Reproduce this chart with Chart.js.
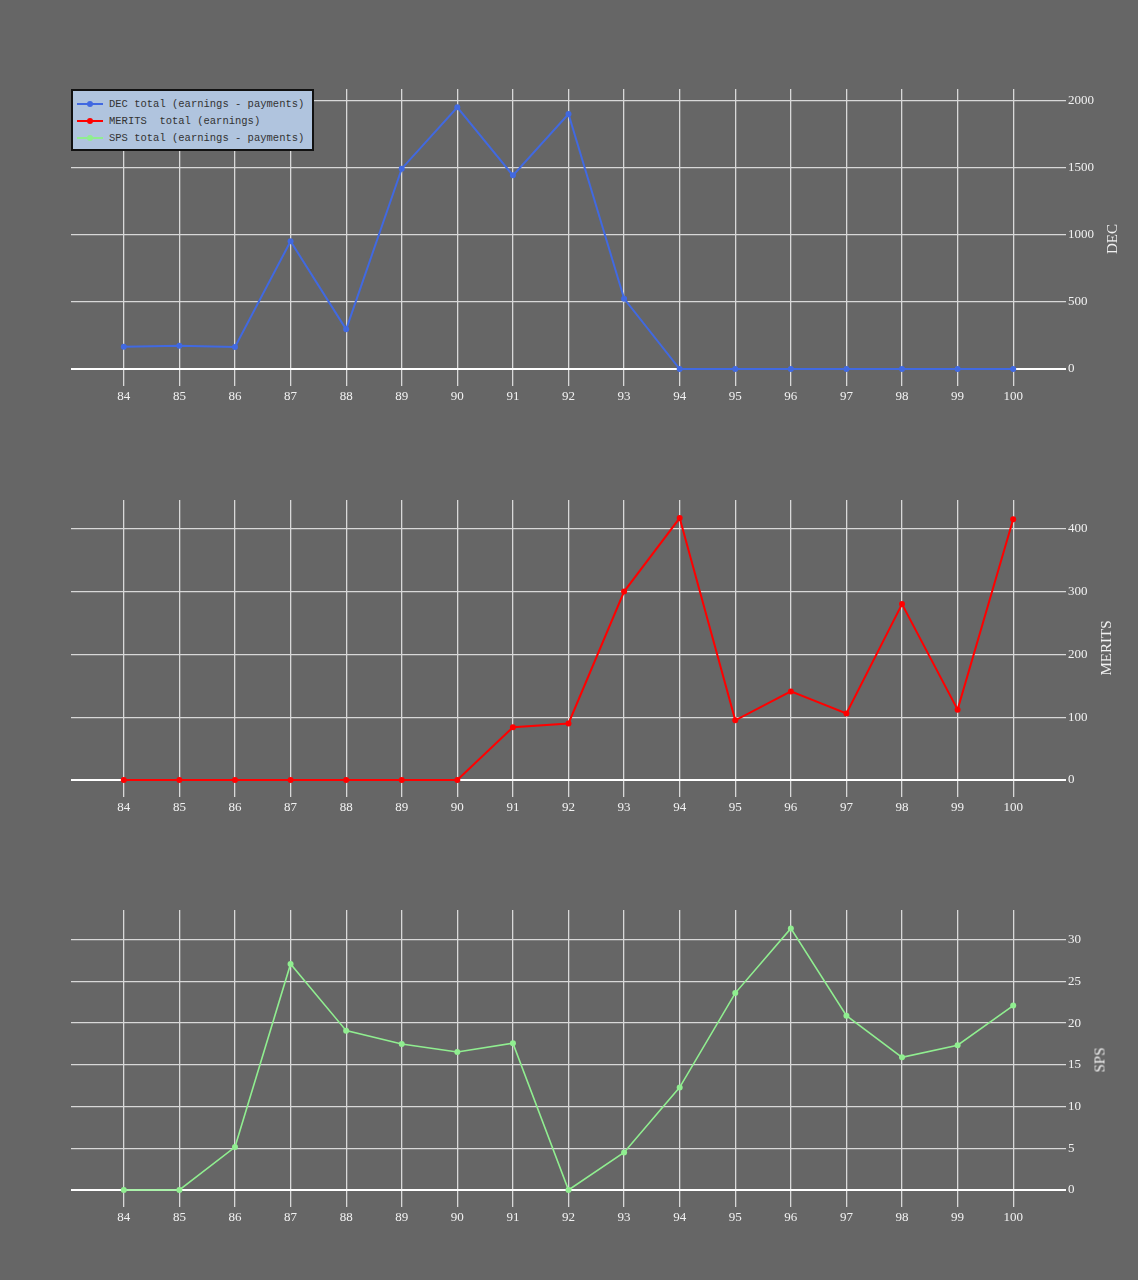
<!DOCTYPE html>
<html>
<head>
<meta charset="utf-8">
<script src="https://cdn.jsdelivr.net/npm/chart.js@4.4.0/dist/chart.umd.min.js"></script>
<style>
html,body{margin:0;padding:0;background:#666666;}
#wrap{position:relative;width:1138px;height:1280px;overflow:hidden;background:#666666;}
canvas{position:absolute;left:0;}
.ytitle{position:absolute;font-family:'Liberation Serif','Times New Roman',serif;font-size:15px;color:#f0f0f0;transform:translate(-50%,-50%) rotate(-90deg);white-space:nowrap;line-height:15px;}
#legend{position:absolute;left:71px;top:89px;width:239px;height:58px;background:#b0c4de;border:2px solid #111;font-family:'Liberation Mono','Courier New',monospace;font-size:10.5px;color:#333;}
.lrow{position:absolute;left:0;width:239px;height:17px;}
.lline{position:absolute;left:4px;top:7.5px;width:26px;height:2px;}
.ldot{position:absolute;left:14px;top:5.5px;width:6px;height:6px;border-radius:50%;}
.ltext{position:absolute;left:36px;top:0;line-height:17px;white-space:pre;}
</style>
</head>
<body>
<div id="wrap">
  <canvas id="c1" width="1138" height="409" style="top:0px;width:1138px;height:409px;"></canvas>
  <canvas id="c2" width="1138" height="400" style="top:420px;width:1138px;height:400px;"></canvas>
  <canvas id="c3" width="1138" height="400" style="top:830px;width:1138px;height:400px;"></canvas>
  <div class="ytitle" id="t1" style="left:1112px;top:239px;"></div>
  <div class="ytitle" id="t2" style="left:1106px;top:648px;"></div>
  <div class="ytitle" id="t3" style="left:1100px;top:1060px;"></div>
  <div id="legend"></div>
</div>
<script>
// ---- data ----
const rounds = [84,85,86,87,88,89,90,91,92,93,94,95,96,97,98,99,100];
const decValues = [166,174,164,953,296,1495,1953,1445,1903,525,0,0,0,0,0,0,0];
const meritsValues = [0,0,0,0,0,0,0,84,90,300,417,95,141,106,280,112,415];
const spsValues = [0,0,5.15,27.1,19.1,17.5,16.55,17.6,0,4.5,12.3,23.6,31.35,20.9,15.9,17.35,22.1];
const seriesNames = ['DEC total (earnings - payments)','MERITS  total (earnings)','SPS total (earnings - payments)'];
const axisTitles = ['DEC','MERITS','SPS'];
const decTicks = [0,500,1000,1500,2000];
const meritsTicks = [0,100,200,300,400];
const spsTicks = [0,5,10,15,20,25,30];

const colors = ['#4169e1','#ff0000','#90ee90'];
const tickFont = {family:"'Liberation Serif','Times New Roman',serif", size:13};
const tickColor = '#f2f2f2';
const gridColor = '#d8d8d8';

function makeChart(id, label, values, color, lw, yMax, tickVals, padTop){
  return new Chart(document.getElementById(id), {
    type:'line',
    data:{datasets:[{
      label:label,
      data: rounds.map((r,i)=>({x:r,y:values[i]})),
      borderColor:color, backgroundColor:color,
      borderWidth:lw, pointRadius:3, pointHoverRadius:3, pointBorderWidth:0,
      tension:0, fill:false, clip:false
    }]},
    options:{
      responsive:false, animation:false, devicePixelRatio:1,
      layout:{padding:{left:71,right:0,top:padTop,bottom:0}},
      plugins:{legend:{display:false}, tooltip:{enabled:false}},
      scales:{
        x:{type:'linear', min:83.05, max:100.95,
           afterFit(s){s.height=40;},
           afterBuildTicks(s){s.ticks = rounds.map(v=>({value:v}));},
           ticks:{autoSkip:false, maxRotation:0, minRotation:0,
                  color:tickColor, font:tickFont, padding:3, callback:v=>String(v)},
           grid:{color:gridColor, lineWidth:1.3, tickLength:17, drawTicks:true},
           border:{display:false}},
        y:{type:'linear', position:'right', min:0, max:yMax,
           afterFit(s){s.width=72;},
           afterBuildTicks(s){s.ticks = tickVals.map(v=>({value:v}));},
           ticks:{color:tickColor, font:tickFont, padding:2, callback:v=>String(v)},
           grid:{drawTicks:false,
                 color:ctx=>(ctx.tick && ctx.tick.value===0)?'#ffffff':gridColor,
                 lineWidth:ctx=>(ctx.tick && ctx.tick.value===0)?2:1.3},
           border:{display:false}}
      }
    }
  });
}

makeChart('c1', seriesNames[0], decValues, colors[0], 2, 2089.6, decTicks, 89);
makeChart('c2', seriesNames[1], meritsValues, colors[1], 2, 445.7, meritsTicks, 80);
makeChart('c3', seriesNames[2], spsValues, colors[2], 1.6, 33.56, spsTicks, 80);

['t1','t2','t3'].forEach((id,i)=>{document.getElementById(id).textContent = axisTitles[i];});

const leg = document.getElementById('legend');
seriesNames.forEach((name,i)=>{
  const row = document.createElement('div');
  row.className='lrow';
  row.style.top = (4.8 + i*17) + 'px';
  row.innerHTML = '<div class="lline" style="background:'+colors[i]+'"></div>'+
                  '<div class="ldot" style="background:'+colors[i]+'"></div>'+
                  '<div class="ltext"></div>';
  row.querySelector('.ltext').textContent = name;
  leg.appendChild(row);
});
</script>
</body>
</html>
